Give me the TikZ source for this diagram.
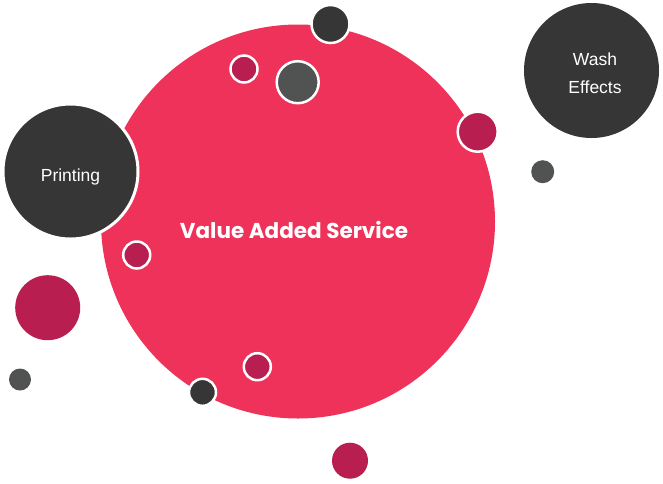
\documentclass[tikz,border=0pt]{standalone}
\usepackage{fontspec}
\setmainfont{Liberation Sans}
\newfontfamily\headfont{Poppins}
\usepackage{tikz}
\usetikzlibrary{positioning}
\definecolor{rose}{HTML}{EE325A}
\definecolor{berry}{HTML}{B81E50}
\definecolor{coal}{HTML}{363636}
\definecolor{slate}{HTML}{505351}

\begin{document}
\begin{tikzpicture}[x=1pt,y=-1pt,
   big/.style={circle,fill=rose,inner sep=0pt,minimum size=394pt},
   topic/.style={circle,fill=coal,draw=white,line width=3pt,inner sep=0pt,minimum size=135pt},
   tag/.style={text=white,align=center,inner sep=0pt,font=\fontsize{17.5}{28}\selectfont},
   ring/.style={circle,draw=white,line width=2.5pt,inner sep=0pt},
   blob/.style={circle,inner sep=0pt}]
  \useasboundingbox (0,0) rectangle (663,483);
  \node[big] (vas) at (298,221.5) {};
  \node[text=white,font=\headfont\bfseries\fontsize{21.5}{26}\selectfont] (vaslabel) at (294,230) {Value Added Service};
  \node[topic] (print) at (70.5,171.5) {};
  \node[tag] (printlabel) at ([yshift=-5.5pt]print.center) {Printing};
  \node[topic,draw=none] (wash) at (591.5,70.5) {};
  \node[tag] (washlabel) at ([xshift=3.5pt,yshift=-2.5pt]wash.center) {Wash\\Effects};
  % dots round the main circle
  \node[ring,fill=coal,minimum size=38pt] (d1) at (330.5,24) {};
  \node[ring,fill=berry,minimum size=27pt] (d2) at (244,69) {};
  \node[ring,fill=slate,minimum size=42pt] (d3) at (297.7,82.2) {};
  \node[ring,fill=berry,minimum size=40pt] (d4) at (477.7,131.7) {};
  \node[blob,fill=slate,minimum size=23pt] (d5) at (542.7,171.7) {};
  \node[ring,fill=berry,minimum size=27pt] (d6) at (136.7,255) {};
  \node[blob,fill=berry,minimum size=65pt] (d7) at (47.7,307.7) {};
  \node[blob,fill=slate,minimum size=22pt] (d8) at (20,379.5) {};
  \node[ring,fill=berry,minimum size=27pt] (d9) at (257.3,366.7) {};
  \node[ring,fill=coal,minimum size=27pt] (d10) at (202.5,392.3) {};
  \node[blob,fill=berry,minimum size=36pt] (d11) at (350,460.7) {};
\end{tikzpicture}
\end{document}
